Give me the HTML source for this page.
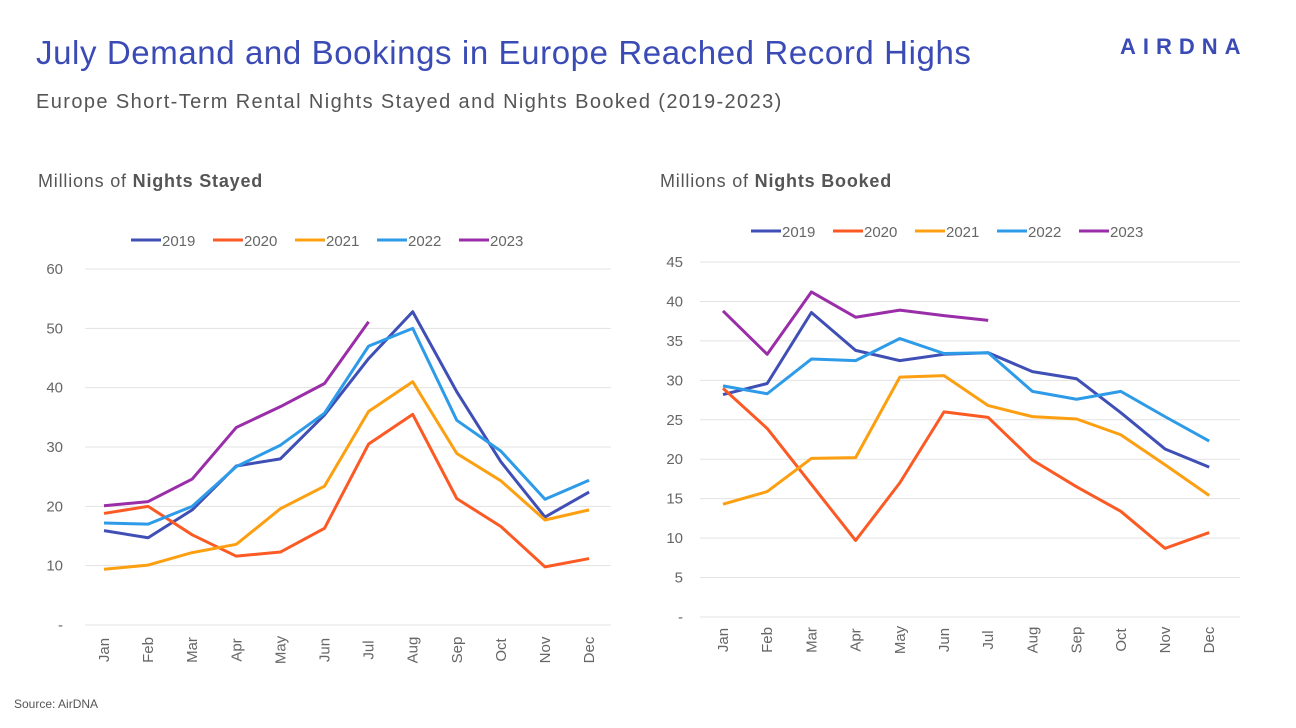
<!DOCTYPE html>
<html><head><meta charset="utf-8">
<style>
body{margin:0;width:1296px;height:728px;background:#fff;font-family:"Liberation Sans",sans-serif;overflow:hidden;position:relative}
.t{position:absolute;white-space:nowrap}
</style></head><body>
<div class="t" style="left:36px;top:34px;font-size:33px;letter-spacing:0.6px;color:#3a4bb6">July Demand and Bookings in Europe Reached Record Highs</div>
<div class="t" style="left:1120px;top:34px;font-size:22px;color:#3a4bb6;letter-spacing:7px;font-weight:bold">AIRDNA</div>
<div class="t" style="left:36px;top:91px;font-size:20px;letter-spacing:1.4px;color:#555">Europe Short-Term Rental Nights Stayed and Nights Booked (2019-2023)</div>
<div class="t" style="left:38px;top:171px;font-size:18px;letter-spacing:0.8px;color:#555">Millions of <b>Nights Stayed</b></div>
<div class="t" style="left:660px;top:171px;font-size:18px;letter-spacing:0.8px;color:#555">Millions of <b>Nights Booked</b></div>
<div class="t" style="left:14px;top:697px;font-size:12px;color:#555">Source: AirDNA</div>
<svg id="svg" width="1296" height="728" style="position:absolute;left:0;top:0"></svg>
<script>
const months=["Jan","Feb","Mar","Apr","May","Jun","Jul","Aug","Sep","Oct","Nov","Dec"];
const years=["2019","2020","2021","2022","2023"];
const colors=["#3f4fb5","#fb5a24","#fca012","#2e9be8","#9a2da8"];
const stayed2019=[15.9,14.7,19.4,26.8,28,35.4,44.9,52.8,39.3,27.5,18.2,22.4];
const stayed2020=[18.8,20.0,15.2,11.6,12.3,16.3,30.5,35.5,21.3,16.6,9.8,11.2];
const stayed2021=[9.4,10.1,12.2,13.6,19.6,23.4,36,41,28.9,24.3,17.7,19.4];
const stayed2022=[17.2,17.0,20.0,26.7,30.3,35.7,47,50,34.5,29.3,21.2,24.4];
const stayed2023=[20.1,20.8,24.6,33.3,36.8,40.7,51.1];
const booked2019=[28.2,29.6,38.6,33.8,32.5,33.3,33.5,31.1,30.2,25.9,21.3,19.0];
const booked2020=[29.0,23.9,16.8,9.7,17.0,26.0,25.3,19.9,16.5,13.4,8.7,10.7];
const booked2021=[14.3,15.9,20.1,20.2,30.4,30.6,26.8,25.4,25.1,23.1,19.3,15.4];
const booked2022=[29.3,28.3,32.7,32.5,35.3,33.4,33.5,28.6,27.6,28.6,25.4,22.3];
const booked2023=[38.8,33.3,41.2,38.0,38.9,38.2,37.6];
const leftTicks=[0,10,20,30,40,50,60];
const rightTicks=[0,5,10,15,20,25,30,35,40,45];
const svg=document.getElementById('svg');
const NS="http://www.w3.org/2000/svg";
function mk(tag,attrs){const e=document.createElementNS(NS,tag);for(const k in attrs)e.setAttribute(k,attrs[k]);svg.appendChild(e);return e;}
function chart(cfg){
  const x=i=>cfg.x0+i*cfg.step;
  const y=v=>cfg.y0-(v-0)/(cfg.max)*(cfg.y0-cfg.yTop);
  cfg.ticks.forEach(t=>{
    const g=mk('line',{x1:cfg.gx0,x2:cfg.gx1,y1:y(t),y2:y(t),stroke:'#e3e3e3','stroke-width':1});
    
    
    const tx=mk('text',{x:cfg.lx,y:y(t)+5,'text-anchor':'end','font-size':15,fill:'#666','font-family':'Liberation Sans'});
    tx.textContent=t===0?'-':t;
    
    
  });
  months.forEach((m,i)=>{
    const tx=mk('text',{transform:`translate(${x(i)+5},${cfg.my}) rotate(-90)`,'text-anchor':'middle','font-size':15,fill:'#666','font-family':'Liberation Sans'});
    tx.textContent=m;
    
    
  });
  cfg.series.forEach((s,k)=>{
    const p=mk('polyline',{points:s.map((v,i)=>x(i)+','+y(v)).join(' '),fill:'none',stroke:colors[k],'stroke-width':3,'stroke-linejoin':'round'});
    
    
  });
  years.forEach((yr,k)=>{
    const lx=cfg.legX+k*82;
    const l=mk('line',{x1:lx,x2:lx+30,y1:cfg.legY,y2:cfg.legY,stroke:colors[k],'stroke-width':3});
    
    
    const t=mk('text',{x:lx+31,y:cfg.legY+6,'font-size':15,fill:'#666','font-family':'Liberation Sans'});
    t.textContent=yr;
    
    
  });
}
chart({x0:104,step:44.1,y0:625,yTop:269,max:60,ticks:leftTicks,gx0:85,gx1:611,lx:63,my:650,
  series:[stayed2019,stayed2020,stayed2021,stayed2022,stayed2023],legX:131,legY:240});
chart({x0:723,step:44.2,y0:617,yTop:262,max:45,ticks:rightTicks,gx0:700,gx1:1240,lx:683,my:640,
  series:[booked2019,booked2020,booked2021,booked2022,booked2023],legX:751,legY:231});
</script>
</body></html>
